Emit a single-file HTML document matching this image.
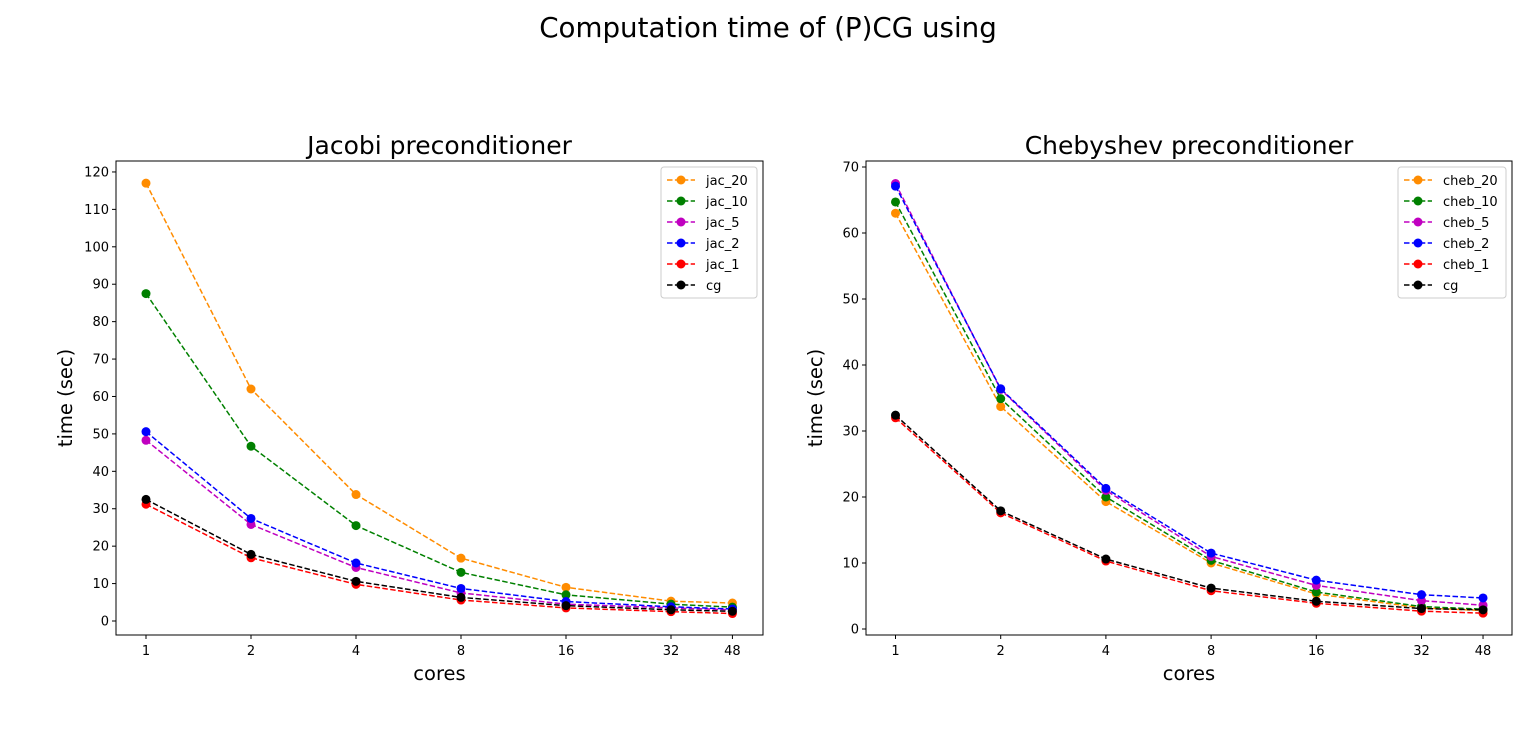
<!DOCTYPE html>
<html><head><meta charset="utf-8"><style>
html,body{margin:0;background:#fff;overflow:hidden;}
svg{display:block;}
svg text{font-family:"DejaVu Sans","Liberation Sans",sans-serif;fill:#000;}
</style></head><body>
<svg id="fig" width="1536" height="754" xmlns="http://www.w3.org/2000/svg">
<rect width="1536" height="754" fill="#fff"/>
<text x="768" y="37" font-size="27.7" text-anchor="middle">Computation time of (P)CG using</text>
</svg>
<script>
const cores=[1,2,4,8,16,32,48];
const colors=['#ff8c00','#008000','#c000c0','#0000ff','#ff0000','#000000'];
const jacNames=['jac_20','jac_10','jac_5','jac_2','jac_1','cg'];
const jac20=[117,62,33.8,16.8,9,5.3,4.8];
const jac10=[87.5,46.7,25.5,13,7,4.5,3.7];
const jac5=[48.3,25.8,14.3,7.5,4.5,3.5,3.0];
const jac2=[50.6,27.4,15.5,8.7,5.2,3.8,3.2];
const jac1=[31.2,16.9,9.8,5.6,3.5,2.5,2.0];
const cgJ=[32.5,17.8,10.6,6.3,4.1,3.0,2.6];
const chebNames=['cheb_20','cheb_10','cheb_5','cheb_2','cheb_1','cg'];
const cheb20=[63,33.7,19.3,10,5.3,3.2,2.8];
const cheb10=[64.7,34.9,20,10.4,5.6,3.4,3.0];
const cheb5=[67.5,36.3,21,11,6.6,4.3,3.6];
const cheb2=[67.1,36.4,21.3,11.5,7.4,5.2,4.7];
const cheb1=[32,17.6,10.3,5.8,3.9,2.7,2.4];
const cgC=[32.4,17.9,10.6,6.2,4.2,3.1,2.9];
const jacTicks=[0,10,20,30,40,50,60,70,80,90,100,110,120];
const chebTicks=[0,10,20,30,40,50,60,70];
const NS='http://www.w3.org/2000/svg';
const svg=document.getElementById('fig');
function mk(tag,attrs,parent){const e=document.createElementNS(NS,tag);for(const k in attrs)e.setAttribute(k,attrs[k]);(parent||svg).appendChild(e);return e;}
function panel(o){
 const g=mk('g',{});
 
 
 const xs=c=>o.x0+Math.log2(c)*o.dx;
 const ys=v=>o.y0-v*o.py;
 mk('rect',{x:o.L,y:161,width:o.R-o.L,height:474,fill:'none',stroke:'#000','stroke-width':1},g);
 const t=mk('text',{x:(o.L+o.R)/2,y:154,'font-size':25,'text-anchor':'middle'},g);t.textContent=o.title;
 
 
 cores.forEach(c=>{const x=xs(c);mk('line',{x1:x,x2:x,y1:635,y2:639,stroke:'#000'},g);
  const tt=mk('text',{x:x,y:655,'font-size':13,'text-anchor':'middle'},g);tt.textContent=c;
  
  });
 o.ticks.forEach(v=>{const y=ys(v);mk('line',{x1:o.L-4,x2:o.L,y1:y,y2:y,stroke:'#000'},g);
  const tt=mk('text',{x:o.L-7,y:y+4.5,'font-size':13,'text-anchor':'end'},g);tt.textContent=v;
  
  });
 const xl=mk('text',{x:(o.L+o.R)/2,y:680,'font-size':19.5,'text-anchor':'middle'},g);xl.textContent='cores';
 
 
 const yl=mk('text',{x:0,y:0,'font-size':19.5,'text-anchor':'middle',transform:`translate(${o.L-44},398) rotate(-90)`},g);yl.textContent='time (sec)';
 
 
 o.series.forEach((s,i)=>{
  const pts=s.map((v,j)=>xs(cores[j])+','+ys(v)).join(' ');
  const pl=mk('polyline',{points:pts,fill:'none',stroke:colors[i],'stroke-width':1.5,'stroke-dasharray':'5.5,2.4'},g);
  
  
  s.forEach((v,j)=>{const c=mk('circle',{cx:xs(cores[j]),cy:ys(v),r:4.5,fill:colors[i]},g);
   
   });
 });
 const lg=mk('g',{},g);
 
 
 mk('rect',{x:o.lx,y:167,width:o.lw,height:131,rx:3,fill:'#fff',stroke:'#ccc'},lg);
 o.names.forEach((n,i)=>{const y=180+i*21;
  mk('line',{x1:o.lx+6,x2:o.lx+34,y1:y,y2:y,stroke:colors[i],'stroke-width':1.5,'stroke-dasharray':'5.5,2.4'},lg);
  mk('circle',{cx:o.lx+20,cy:y,r:4.5,fill:colors[i]},lg);
  const tt=mk('text',{x:o.lx+45,y:y+5,'font-size':13},lg);tt.textContent=n;
  
  });
}
panel({id:'jacobi',title:'Jacobi preconditioner',L:116,R:763,x0:146,dx:105,y0:621,py:3.742,ticks:jacTicks,
 series:[jac20,jac10,jac5,jac2,jac1,cgJ],names:jacNames,lx:661,lw:96});
panel({id:'chebyshev',title:'Chebyshev preconditioner',L:866,R:1512,x0:895.5,dx:105.2,y0:629,py:6.6,ticks:chebTicks,
 series:[cheb20,cheb10,cheb5,cheb2,cheb1,cgC],names:chebNames,lx:1398,lw:108});
</script>
</body></html>
